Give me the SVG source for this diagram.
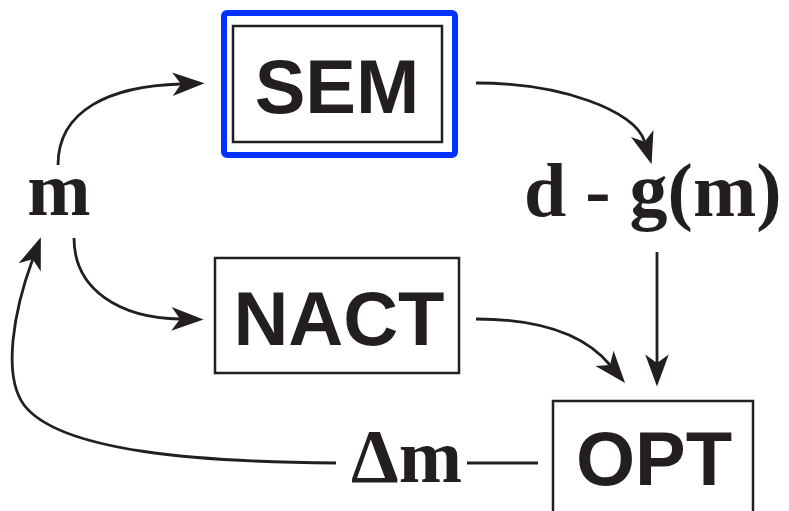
<svg xmlns="http://www.w3.org/2000/svg" width="789" height="511" viewBox="0 0 789 511">
  <style>
    .box { fill: #ffffff; stroke: #231f20; stroke-width: 2.5; }
    .sem-frame { fill: #ffffff; stroke: #0033ff; stroke-width: 6; }
    .label { font-family: "Liberation Sans", Arial, sans-serif; font-weight: bold; font-size: 76px; fill: #231f20; text-anchor: middle; }
    .math { font-family: "Liberation Serif", "Times New Roman", serif; font-weight: bold; font-size: 76px; fill: #231f20; }
    .edge { fill: none; stroke: #231f20; stroke-width: 2.8; }
  </style>
  <defs>
    <marker id="head" markerUnits="userSpaceOnUse" markerWidth="40" markerHeight="30" viewBox="-10 -14 36 28" refX="0" refY="0" orient="auto">
      <path d="M22,0 L-8,-11 L0,0 L-8,11 Z" fill="#231f20"/>
    </marker>
  </defs>

  <!-- connectors -->
  <g id="connectors">
    <path class="edge" d="M58,165 C58,110 110,86 181,84" marker-end="url(#head)"/>
    <path class="edge" d="M74,238 C74,290 120,318 180,319" marker-end="url(#head)"/>
    <path class="edge" d="M476,83 C560,83 635,110 644.7,141.7" marker-end="url(#head)"/>
    <path class="edge" d="M657,252 L657,363" marker-end="url(#head)"/>
    <path class="edge" d="M476,319 C540,319 585,335 610,365" marker-end="url(#head)"/>
    <path class="edge" d="M336,463 C200,462 60,452 24,405 C2,375 14,310 32.7,259.3" marker-end="url(#head)"/>
    <path class="edge" d="M467,463 L538,463"/>
  </g>

  <!-- SEM -->
  <g id="sem">
    <rect class="sem-frame" x="224" y="13" width="231" height="142" rx="3"/>
    <rect class="box" x="233" y="26" width="209" height="116"/>
    <text class="label" x="337" y="113">SEM</text>
  </g>

  <!-- NACT -->
  <g id="nact">
    <rect class="box" x="215" y="258" width="244" height="115"/>
    <text class="label" x="339" y="345">NACT</text>
  </g>

  <!-- OPT -->
  <g id="opt">
    <rect class="box" x="553" y="401" width="200" height="130"/>
    <text class="label" x="654" y="485">OPT</text>
  </g>

  <!-- model -->
  <g id="m">
    <text class="math" x="59" y="215" text-anchor="middle">m</text>
  </g>

  <!-- residual -->
  <g id="residual">
    <text class="math" x="524" y="216">d - g(m)</text>
  </g>

  <!-- model update -->
  <g id="delta-m">
    <text class="math" x="351" y="482">Δm</text>
  </g>
</svg>
